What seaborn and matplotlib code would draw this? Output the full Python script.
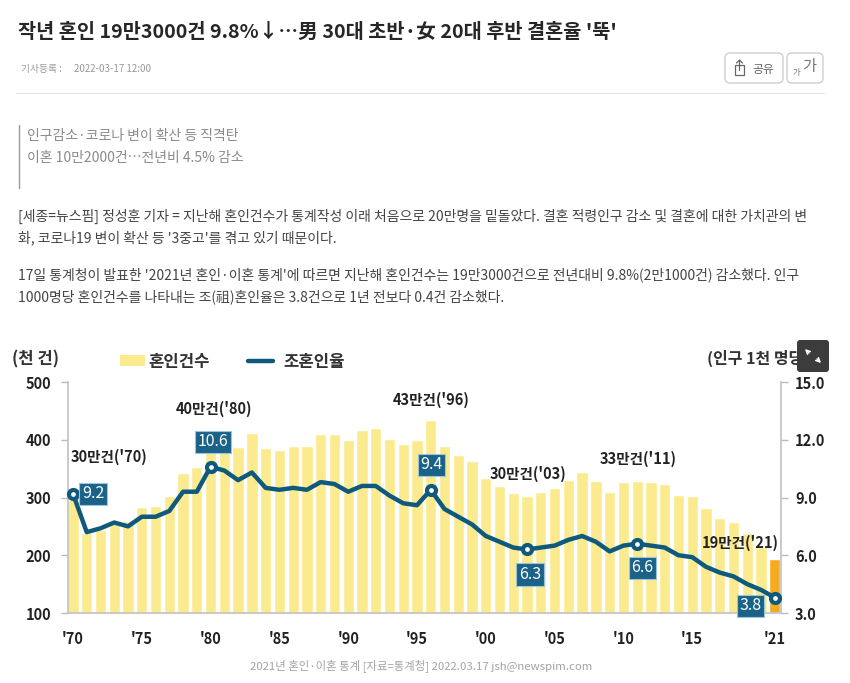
import matplotlib
matplotlib.use('Agg')
import matplotlib.pyplot as plt
import seaborn as sns
import pandas as pd
from matplotlib.patches import FancyBboxPatch, Rectangle
from matplotlib.lines import Line2D

years = list(range(1970, 2022))
marriages = [295, 239, 244, 259, 259, 283, 285, 302, 343, 352,
             403, 392, 387, 412, 385, 383, 389, 389, 410, 410,
             399, 417, 420, 402, 393, 399, 435, 389, 374, 363,
             334, 320, 307, 303, 309, 316, 331, 344, 328, 310,
             326, 329, 327, 323, 305, 303, 282, 264, 258, 239,
             214, 193]
crude_rate = [9.2, 7.2, 7.4, 7.7, 7.5, 8.0, 8.0, 8.3, 9.3, 9.3,
              10.6, 10.4, 9.9, 10.3, 9.5, 9.4, 9.5, 9.4, 9.8, 9.7,
              9.3, 9.6, 9.6, 9.1, 8.7, 8.6, 9.4, 8.4, 8.0, 7.6,
              7.0, 6.7, 6.4, 6.3, 6.4, 6.5, 6.8, 7.0, 6.7, 6.2,
              6.5, 6.6, 6.5, 6.4, 6.0, 5.9, 5.4, 5.1, 4.9, 4.5,
              4.2, 3.8]

x_tick_years = [1970, 1975, 1980, 1985, 1990, 1995, 2000, 2005, 2010, 2015, 2021]
x_tick_labels = ["'70", "'75", "'80", "'85", "'90", "'95", "'00", "'05", "'10", "'15", "'21"]
left_ticks = [100, 200, 300, 400, 500]
right_ticks = [3.0, 6.0, 9.0, 12.0, 15.0]

peak_years = [1970, 1980, 1996, 2003, 2011, 2021]
peak_rate_labels = ['9.2', '10.6', '9.4', '6.3', '6.6', '3.8']
peak_offsets = [(20, 0), (2, 25), (1, 25), (3, -25), (5, -24), (-24, -8)]
count_labels = ["30만건('70)", "40만건('80)", "43만건('96)", "30만건('03)", "33만건('11)", "19만건('21)"]
count_label_pos = [(109, 457), (214, 409), (431, 400), (528, 474), (638, 459), (740, 543)]

df = pd.DataFrame({'year': years, 'marriages': marriages, 'rate': crude_rate})
df['kind'] = ['recent' if y == 2021 else 'past' for y in years]

BAR = '#fcea8e'
BAR_LAST = '#f6ab1f'
LINE = '#0f5a7c'
TAG = '#1b6289'
DARK = '#222222'

sns.set_theme(style='white')
plt.rcParams['font.family'] = ['Noto Sans CJK KR', 'DejaVu Sans']

fig = plt.figure(figsize=(8.5, 6.83), dpi=100, facecolor='white')

# chart area in pixels: x 68-781, y 382-613
ax = fig.add_axes([68 / 850, 1 - 613 / 683, (781 - 68) / 850, (613 - 382) / 683])
sns.barplot(data=df, x='year', y='marriages', hue='kind', palette={'past': BAR, 'recent': BAR_LAST},
            native_scale=True, dodge=False, width=0.82, saturation=1, legend=False, ax=ax)
ax.set_xlim(1969.64, 2021.45)
ax.set_ylim(100, 500)
ax.set_xlabel('')
ax.set_ylabel('')
ax.set_xticks(x_tick_years)
ax.set_xticklabels(x_tick_labels, fontsize=10.5, fontweight='bold', color=DARK)
ax.set_yticks(left_ticks)
ax.set_yticklabels([str(t) for t in left_ticks], fontsize=10.5, fontweight='bold', color=DARK)
ax.tick_params(axis='x', length=0, pad=13)
ax.tick_params(axis='y', length=5, width=1, color='#bbbbbb', pad=7, left=True)
for side in ['top', 'right']:
    ax.spines[side].set_visible(False)
ax.spines['left'].set_color('#c4c4c4')
ax.spines['bottom'].set_color('#c4c4c4')

ax2 = ax.twinx()
sns.lineplot(data=df, x='year', y='rate', color=LINE, linewidth=3.2, ax=ax2, legend=False,
             solid_joinstyle='round', errorbar=None)
ax2.set_ylim(3, 15)
ax2.set_xlim(1969.64, 2021.45)
ax2.set_xlabel('')
ax2.set_ylabel('')
ax2.set_yticks(right_ticks)
ax2.set_yticklabels([f'{t:.1f}' for t in right_ticks], fontsize=10.5, fontweight='bold', color=DARK)
ax2.tick_params(axis='y', length=5, width=1, color='#bbbbbb', pad=5, right=True)
for side in ['top', 'left', 'bottom']:
    ax2.spines[side].set_visible(False)
ax2.spines['right'].set_color('#c4c4c4')

peaks = df[df['year'].isin(peak_years)]
ax2.scatter(peaks['year'], peaks['rate'], s=42, facecolor='white', edgecolor=LINE, linewidth=3, zorder=5, clip_on=False)
for yr, lab, off in zip(peak_years, peak_rate_labels, peak_offsets):
    val = df.loc[df['year'] == yr, 'rate'].iloc[0]
    ax2.annotate(lab, (yr, val), xytext=off, textcoords='offset pixels', ha='center', va='center',
                 fontsize=11.5, color='white', fontweight='medium', zorder=6,
                 bbox=dict(boxstyle='square,pad=0.16', facecolor=TAG, edgecolor='#9cc3d8', linewidth=0.8))

# everything around the chart, placed in page pixels
page = fig.add_axes([0, 0, 1, 1], zorder=5)
page.set_xlim(0, 850)
page.set_ylim(683, 0)
page.axis('off')

page.text(18, 32, "작년 혼인 19만3000건 9.8%↓…男 30대 초반·女 20대 후반 결혼율 '뚝'",
          fontsize=14.2, fontweight='bold', color='#262626', va='center')
page.text(21, 69, '기사등록 :', fontsize=7, color='#999999', va='center')
page.text(74, 69, '2022-03-17 12:00', fontsize=7, color='#999999', va='center')
page.plot([16, 824], [92.5, 92.5], color='#e6e6e6', lw=1)

for bx, bw in [(725, 58), (787, 36)]:
    page.add_patch(FancyBboxPatch((bx, 53), bw, 30, boxstyle='round,pad=0,rounding_size=5',
                                  facecolor='white', edgecolor='#cfcfcf', lw=1))
page.text(752, 69, '공유', fontsize=8.5, color='#666666', va='center')
page.add_patch(Rectangle((735, 65), 9, 10, facecolor='none', edgecolor='#666666', lw=0.9))
page.add_line(Line2D([739.5, 739.5], [60, 70], color='#666666', lw=0.9))
page.add_line(Line2D([736.5, 739.5, 742.5], [63, 60, 63], color='#666666', lw=0.9))
page.text(796, 72, '가', fontsize=6, color='#777777', va='center', ha='center')
page.text(809, 67, '가', fontsize=11, color='#777777', va='center', ha='center')

page.plot([19, 19], [125, 188], color='#999999', lw=1)
page.text(27, 136, '인구감소·코로나 변이 확산 등 직격탄', fontsize=10, color='#8a8a8a', va='center')
page.text(27, 158, '이혼 10만2000건…전년비 4.5% 감소', fontsize=10, color='#8a8a8a', va='center')

body_lines = [
    (216, "[세종=뉴스핌] 정성훈 기자 = 지난해 혼인건수가 통계작성 이래 처음으로 20만명을 밑돌았다. 결혼 적령인구 감소 및 결혼에 대한 가치관의 변"),
    (238, "화, 코로나19 변이 확산 등 '3중고'를 겪고 있기 때문이다."),
    (275, "17일 통계청이 발표한 '2021년 혼인·이혼 통계'에 따르면 지난해 혼인건수는 19만3000건으로 전년대비 9.8%(2만1000건) 감소했다. 인구"),
    (297, "1000명당 혼인건수를 나타내는 조(祖)혼인율은 3.8건으로 1년 전보다 0.4건 감소했다."),
]
for by, line in body_lines:
    page.text(18, by, line, fontsize=10, color='#444444', va='center')

page.text(12, 359, '(천 건)', fontsize=12, fontweight='bold', color='#333333', va='center')
page.text(707, 358, '(인구 1천 명당 건)', fontsize=11.5, fontweight='bold', color='#333333', va='center')

page.add_patch(Rectangle((120, 355), 25, 11, facecolor=BAR, edgecolor='none'))
page.text(148, 362, '혼인건수', fontsize=12, fontweight='bold', color='#333333', va='center')
page.add_line(Line2D([248, 273], [361, 361], color=LINE, lw=3.2, solid_capstyle='round'))
page.text(283, 362, '조혼인율', fontsize=12, fontweight='bold', color='#333333', va='center')

for (lx, ly), lab in zip(count_label_pos, count_labels):
    page.text(lx, ly, lab, fontsize=10.5, fontweight='bold', color='#222222', ha='center', va='center', zorder=7)

page.text(421, 666, '2021년 혼인·이혼 통계 [자료=통계청] 2022.03.17 jsh@newspim.com',
          fontsize=8.2, color='#a3a3a3', ha='center', va='center')

# expand button sitting over the chart image
page.add_patch(FancyBboxPatch((797, 340), 32, 32, boxstyle='round,pad=0,rounding_size=3',
                              facecolor='#3c3c3c', edgecolor='none', zorder=8))
page.annotate('', xy=(803, 347), xytext=(811, 355), zorder=9,
              arrowprops=dict(arrowstyle='->', color='white', lw=1.1, mutation_scale=7))
page.annotate('', xy=(823, 365), xytext=(815, 357), zorder=9,
              arrowprops=dict(arrowstyle='->', color='white', lw=1.1, mutation_scale=7))

fig.savefig('out.png', dpi=100)
